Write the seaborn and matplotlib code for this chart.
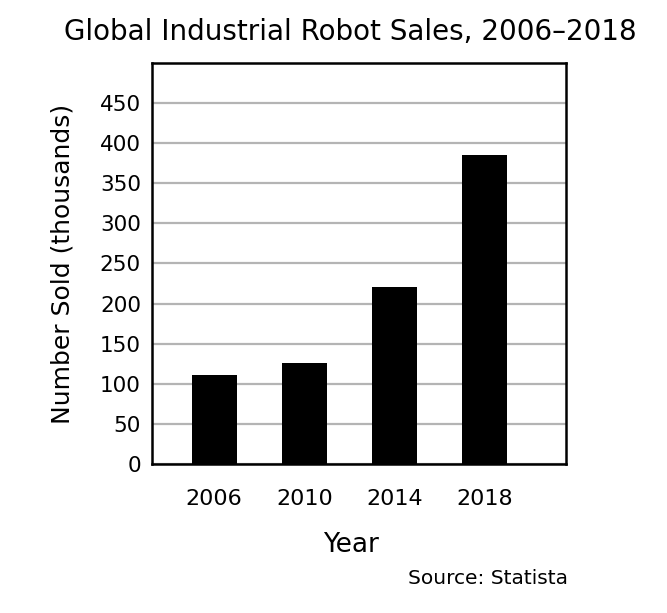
"""Global industrial robot sales bar chart."""
import matplotlib
matplotlib.use("Agg")
import matplotlib.pyplot as plt
import pandas as pd
import seaborn as sns

years = ["2006", "2010", "2014", "2018"]
sold = [111, 126, 221, 385]

sns.set_style("white")
plt.rcParams["font.family"] = ["DejaVu Sans"]
plt.rcParams["text.color"] = "black"
plt.rcParams["xtick.color"] = "black"
plt.rcParams["ytick.color"] = "black"

df = pd.DataFrame({"Year": years, "Sold": sold})

fig = plt.figure(figsize=(6.67, 6.13), dpi=100)
ax = fig.add_axes([0.2279, 0.2431, 0.6207, 0.6541])

sns.barplot(data=df, x="Year", y="Sold", color="black", width=0.5,
            saturation=1, linewidth=0, ax=ax, zorder=3)

ax.set_xlim(-0.69, 3.9)
ax.set_ylim(0, 500)
ax.set_yticks(range(0, 500, 50))
ax.yaxis.grid(True, color="#b4b4b4", linewidth=1.6, zorder=0)
ax.set_axisbelow(True)
for s in ax.spines.values():
    s.set_visible(True)
    s.set_color("black")
    s.set_linewidth(1.8)

ax.tick_params(axis="x", length=0, pad=18, labelsize=16, labelcolor="black")
ax.tick_params(axis="y", length=0, pad=8, labelsize=15.5, labelcolor="black")

ax.set_xlabel("")
ax.set_ylabel("")
fig.text(0.5255, 0.111, "Year", ha="center", va="center", fontsize=19)
fig.text(0.093, 0.57, "Number Sold (thousands)", rotation=90,
         ha="center", va="center", fontsize=18)
fig.text(0.525, 0.948, "Global Industrial Robot Sales, 2006\u20132018",
         ha="center", va="center", fontsize=20)
fig.text(0.851, 0.057, "Source: Statista", ha="right", va="center", fontsize=14.5)

fig.savefig("out.png", dpi=100)
